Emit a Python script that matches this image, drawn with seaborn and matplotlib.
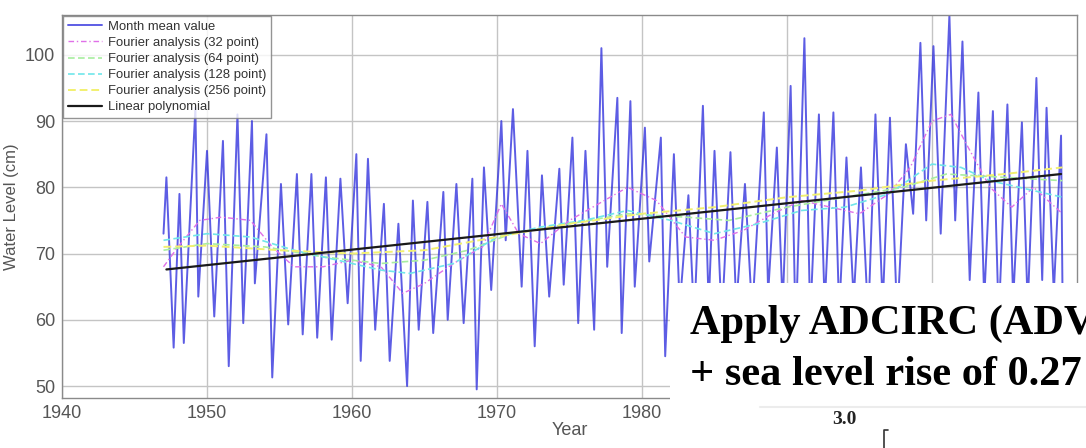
import matplotlib
matplotlib.use("Agg")
import matplotlib.pyplot as plt
import seaborn as sns
import pandas as pd
from matplotlib.patches import Rectangle
from matplotlib.lines import Line2D

# ---------------- data ----------------
month_years = [1947.0, 1947.2, 1947.7, 1948.1, 1948.4, 1949.2, 1949.4, 1950.0, 1950.5,
               1951.1, 1951.5, 1952.1, 1952.5, 1953.1, 1953.3, 1954.1, 1954.5, 1955.1,
               1955.6, 1956.2, 1956.6, 1957.2, 1957.6, 1958.2, 1958.6, 1959.2, 1959.7,
               1960.3, 1960.6, 1961.1, 1961.6, 1962.2, 1962.6, 1963.2, 1963.8, 1964.2,
               1964.6, 1965.2, 1965.6, 1966.3, 1966.6, 1967.2, 1967.7, 1968.3, 1968.6,
               1969.1, 1969.6, 1970.3, 1970.6, 1971.1, 1971.7, 1972.1, 1972.6, 1973.1,
               1973.6, 1974.3, 1974.6, 1975.2, 1975.6, 1976.1, 1976.7, 1977.2, 1977.6,
               1978.3, 1978.6, 1979.2, 1979.5, 1980.2, 1980.5, 1981.3, 1981.6, 1982.2,
               1982.6, 1983.2, 1983.6, 1984.2, 1984.6, 1985.0, 1985.5, 1986.1, 1986.5,
               1987.1, 1987.6, 1988.4, 1988.7, 1989.3, 1989.7, 1990.25, 1990.6, 1991.2,
               1991.6, 1992.2, 1992.6, 1993.2, 1993.6, 1994.1, 1994.6, 1995.1, 1995.6,
               1996.1, 1996.6, 1997.1, 1997.6, 1998.2, 1998.7, 1999.2, 1999.6, 2000.1,
               2000.6, 2001.2, 2001.6, 2002.1, 2002.6, 2003.2, 2003.6, 2004.2, 2004.6,
               2005.2, 2005.6, 2006.2, 2006.6, 2007.2, 2007.6, 2007.9, 2008.4, 2008.9,
               2009.0]
month_vals = [73, 81.5, 55.8, 79, 56.5, 92, 63.5, 85.5, 60.5,
              87, 53, 91, 59.5, 90, 65.5, 88, 51.3, 80.5,
              59.3, 82, 57.8, 82, 57.3, 81.5, 57, 81.3, 62.5,
              85, 53.8, 84.3, 58.5, 77.5, 53.8, 74.5, 50, 78,
              58.5, 77.8, 58, 79.3, 60, 80.5, 59.5, 81.3, 49.5,
              83, 64.5, 90, 72, 91.8, 65, 85.5, 56, 81.8,
              63.5, 82.8, 65.3, 87.5, 59.5, 85.5, 58.5, 101, 68,
              93.5, 58, 93, 65, 89, 68.8, 87.5, 54.5, 85,
              62, 78.8, 60, 92.3, 62, 85.5, 60, 85.3, 62,
              80.5, 61, 91.3, 64, 86, 62, 95.3, 58, 102.5,
              60, 91, 62, 91.3, 61, 84.5, 63, 83, 60,
              91, 62, 90.5, 60, 86.5, 76, 101.8, 75, 101.3,
              73, 106, 75, 102, 66, 94.3, 63, 91.5, 60,
              92.5, 63, 89.8, 62, 96.5, 66, 92, 64, 87.8,
              64]

f32_years = [1947, 1948, 1949.5, 1951, 1953, 1954.5, 1956, 1958, 1960, 1962, 1963.5, 1965,
             1967, 1969, 1970.3, 1971.5, 1973, 1975, 1977, 1979, 1981, 1983, 1985, 1987,
             1989, 1991, 1993, 1995, 1997, 1998.5, 2000, 2001.3, 2002.5, 2004, 2005.5,
             2007, 2008, 2009]
f32_vals = [68, 71, 75, 75.5, 75, 71, 68, 68, 69, 68, 64, 65.5,
            68.5, 71, 77.5, 73, 71.5, 75, 77.5, 80, 78, 72.5, 72, 73.5,
            76, 78, 77, 76, 79, 83, 90, 91, 86, 80, 77,
            80, 78, 76]

f64_years = [1947, 1950, 1954, 1958, 1962, 1965, 1968, 1971, 1975, 1979, 1983, 1986,
             1990, 1994, 1998, 2001, 2005, 2009]
f64_vals = [70.5, 71.5, 71, 69.5, 68.5, 69, 70.5, 73, 74.5, 76, 75.5, 75,
            77, 78.5, 80, 82, 81.5, 81]

f128_years = [1947, 1950, 1953, 1956, 1959, 1962, 1964, 1967, 1970, 1973, 1976, 1979,
              1982, 1985, 1988, 1991, 1994, 1997, 2000, 2002, 2004, 2006, 2009]
f128_vals = [72, 73, 72.5, 70.5, 69, 67.5, 67, 68.5, 72.5, 74, 75, 76.5,
             75, 73, 74.5, 76.5, 77, 79, 83.5, 83, 81, 80, 78.5]

f256_years = [1947, 1950, 1955, 1960, 1965, 1970, 1975, 1980, 1985, 1990, 1995, 2000,
              2005, 2009]
f256_vals = [71, 71.2, 70.5, 70, 70.5, 72.5, 74.5, 76, 77, 78.5, 79.5, 81,
             82, 83]

lin_years = [1947.2, 2008.9]
lin_vals = [67.6, 82.0]

x_ticks = [1940, 1950, 1960, 1970, 1980, 1990, 2000]
y_ticks = [50, 60, 70, 80, 90, 100]

series_labels = ["Month mean value", "Fourier analysis (32 point)",
                 "Fourier analysis (64 point)", "Fourier analysis (128 point)",
                 "Fourier analysis (256 point)", "Linear polynomial"]

overlay_line1 = "Apply ADCIRC (ADV"
overlay_line2 = "+ sea level rise of 0.27"
overlay_tick = "3.0"

# ---------------- figure ----------------
sns.set_theme(style="white")
plt.rcParams["font.family"] = ["Liberation Sans", "DejaVu Sans"]

W, H = 1086, 448
fig = plt.figure(figsize=(W / 100, H / 100), dpi=100)
ax = fig.add_axes([62 / W, 1 - 398 / H, (1077 - 62) / W, (398 - 15) / H])

def frame(years, vals):
    return pd.DataFrame({"Year": years, "Level": vals})

sns.lineplot(data=frame(month_years, month_vals), x="Year", y="Level", ax=ax,
             color="#3030dd", alpha=0.78, lw=1.4, label=series_labels[0],
             estimator=None, sort=False, zorder=2)
sns.lineplot(data=frame(f32_years, f32_vals), x="Year", y="Level", ax=ax,
             color="#e070e8", lw=1.0, dashes=(4, 2, 1, 2), label=series_labels[1],
             estimator=None, zorder=3)
sns.lineplot(data=frame(f64_years, f64_vals), x="Year", y="Level", ax=ax,
             color="#a8eea0", lw=1.2, dashes=(4, 2), label=series_labels[2],
             estimator=None, zorder=3)
sns.lineplot(data=frame(f128_years, f128_vals), x="Year", y="Level", ax=ax,
             color="#70e6ea", lw=1.2, dashes=(4, 2), label=series_labels[3],
             estimator=None, zorder=3)
sns.lineplot(data=frame(f256_years, f256_vals), x="Year", y="Level", ax=ax,
             color="#f2f070", lw=1.4, dashes=(4, 2), label=series_labels[4],
             estimator=None, zorder=3)
sns.lineplot(data=frame(lin_years, lin_vals), x="Year", y="Level", ax=ax,
             color="#1a1a1a", lw=1.6, label=series_labels[5],
             estimator=None, zorder=4)

ax.set_xlim(1940, 2010)
ax.set_ylim(48.2, 106)
ax.set_xticks(x_ticks)
ax.set_yticks(y_ticks)
ax.grid(True, color="#c4c4c4", lw=1.0)
ax.set_axisbelow(True)
for sp in ax.spines.values():
    sp.set_color("#8a8a8a")
    sp.set_linewidth(1.0)
ax.tick_params(direction="in", length=4, color="#777777", labelcolor="#555555",
               labelsize=13, pad=5)
ax.set_xlabel("Year", fontsize=13, color="#555555", labelpad=0)
ax.set_ylabel("Water Level (cm)", fontsize=12, color="#555555", labelpad=4)

leg = ax.legend(loc="upper left", fontsize=9.4, frameon=True, fancybox=False,
                labelspacing=0.3, borderpad=0.35, handlelength=2.6,
                handletextpad=0.5, borderaxespad=0.1)
leg.get_frame().set_edgecolor("#7a7a7a")
leg.get_frame().set_linewidth(1.0)
for t in leg.get_texts():
    t.set_color("#333333")

# ---------------- overlay from the slide ----------------
def fx(px):
    return px / W

def fy(py):
    return 1 - py / H

fig.add_artist(Rectangle((fx(670), fy(448)), fx(W - 670), (448 - 283) / H,
                         transform=fig.transFigure, facecolor="white",
                         edgecolor="none", zorder=10))
fig.add_artist(Line2D([fx(760), fx(W)], [fy(407), fy(407)], transform=fig.transFigure,
                      color="#ececec", lw=1.5, zorder=11))
fig.text(fx(690), fy(334), overlay_line1, fontsize=30.5, fontweight="bold",
         family="Liberation Serif", color="black", va="baseline", ha="left",
         zorder=12, clip_on=True)
fig.text(fx(690), fy(385), overlay_line2, fontsize=30.5, fontweight="bold",
         family="Liberation Serif", color="black", va="baseline", ha="left", zorder=12)
fig.text(fx(844), fy(419), overlay_tick, fontsize=14, fontweight="bold",
         family="Liberation Serif", color="#222222", va="center", ha="center", zorder=12)
fig.add_artist(Line2D([fx(884), fx(884), fx(888)], [fy(448), fy(430), fy(430)],
                      transform=fig.transFigure, color="#333333", lw=1.2, zorder=12))

fig.savefig("out.png", dpi=100)
